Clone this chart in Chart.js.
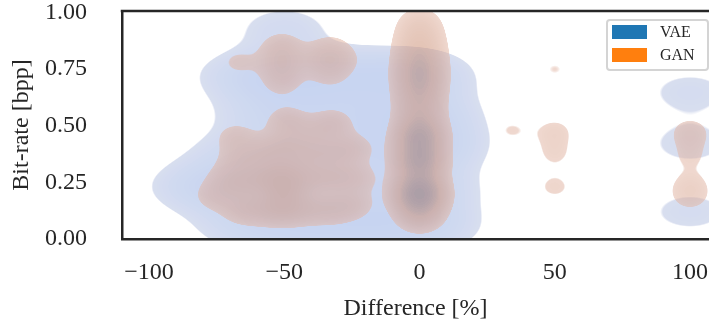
<!doctype html>
<html lang="en">
<head>
<meta charset="utf-8">
<title>Bit-rate vs difference</title>
<script src="https://cdn.jsdelivr.net/npm/chart.js@4.4.1/dist/chart.umd.min.js"></script>
<style>
  * { box-sizing: border-box; margin: 0; padding: 0; }
  body { background: #fff; width: 709px; height: 324px; overflow: hidden; }
  .wrap { position: relative; width: 709px; height: 324px; }
  .legend { position: absolute; left: 606px; top: 19px; width: 103px; height: 52px; background: rgba(255,255,255,0.8);
    border: 2px solid #d4d4d4; border-radius: 4px; font: 16px "Liberation Serif", serif; color: #262626; }
  .legend .it { position: absolute; left: 4px; height: 14px; }
  .legend .sw { position: absolute; left: 0; top: 0; width: 35px; height: 14px; }
  .legend .tx { position: absolute; left: 48px; top: -2px; line-height: 18px; white-space: nowrap; }
</style>
</head>
<body>
<div class="wrap">
  <canvas id="c"></canvas>
  <div class="legend" id="legend"></div>
</div>
<script>
// sample clusters: difference [%], bit-rate [bpp], weight (count)
const vaeX = [-50,
  -65, -48, -30, -12, 2,
  -60, -45, -28, -10, 4,
  -70, -55, -38, -20, 0, 6,
  -82, -66, -48, -28, -8, 5,
  -66, -48, -30, -12, 5,
  100, 100, 100];
const vaeY = [0.93,
  0.72, 0.71, 0.72, 0.72, 0.72,
  0.55, 0.55, 0.55, 0.55, 0.55,
  0.38, 0.38, 0.38, 0.40, 0.38, 0.42,
  0.23, 0.23, 0.22, 0.22, 0.22, 0.22,
  0.06, 0.06, 0.06, 0.06, 0.06,
  0.65, 0.42, 0.12];
const vaeW = [1.6,
  1.8, 2.8, 2.2, 2, 2.2,
  1.2, 1.4, 1.5, 1.6, 2,
  1.1, 1.4, 1.5, 1.9, 1.5, 2,
  2, 2.2, 1.8, 1.8, 1.8, 1.6,
  1.6, 2.2, 2.4, 2.4, 2,
  1.41, 1.41, 1.41];

const ganX = [0, 0, 0, 0, 0, 0, 0, 0, 0, 0, 0, 0, 0, 0, 0, 0, 0,
  -76, -72, -66, -66, -67, -68, -58, -58, -58, -50, -50, -50, -50, -49,
  -41, -41, -41, -40, -32, -32, -32, -32, -24, -23, -24,
  -51, -51, -51, -37, -29, -33, -33, -67,
  34, 50, 50, 50, 50, 50, 100, 100, 100, 100, 100];
const ganY = [0.10, 0.15, 0.20, 0.25, 0.30, 0.35, 0.40, 0.45, 0.50, 0.56, 0.62, 0.68, 0.74, 0.80, 0.86, 0.92, 0.97,
  0.19, 0.27, 0.13, 0.24, 0.35, 0.45, 0.13, 0.27, 0.38, 0.13, 0.22, 0.30, 0.41, 0.52,
  0.13, 0.27, 0.38, 0.47, 0.13, 0.27, 0.38, 0.51, 0.15, 0.27, 0.40,
  0.69, 0.77, 0.85, 0.79, 0.79, 0.72, 0.85, 0.78,
  0.48, 0.75, 0.48, 0.44, 0.37, 0.23, 0.48, 0.44, 0.36, 0.24, 0.18];
const ganW = [2.5, 3, 9, 2.5, 2.5, 6, 2.5, 6, 2.5, 2.5, 2.5, 3.5, 4, 3, 2.5, 1.5, 1,
  1.3, 1, 1.5, 1.5, 1.3, 1.3, 1.5, 1.8, 1.3, 2.5, 3, 2, 1.5, 1.6,
  1.5, 1.5, 1.3, 0.8, 1.5, 1.5, 1.3, 1.6, 1.3, 1.3, 1.3,
  1.2, 1.7, 1.5, 1.1, 1.1, 0.9, 0.9, 1.0,
  0.87, 0.85, 0.9, 0.3, 0.85, 1, 1, 0.5, 0.85, 1, 0.95];

const xTicks = [-100, -50, 0, 50, 100];
const yTicks = [0, 0.25, 0.5, 0.75, 1];

const ink = "#262626";
const serif = "'Liberation Serif', 'Times New Roman', serif";

function pts(xs, ys, ws) { return xs.map((x, i) => ({ x, y: ys[i], w: ws[i] })); }

function ramp(stops, t) {
  const s = t * (stops.length - 1), i = Math.min(stops.length - 2, Math.floor(s)), f = s - i;
  return stops[i].map((c, k) => c + (stops[i + 1][k] - c) * f);
}

// filled density contours, evaluated on the chart area pixel grid
const kdeFill = {
  id: "kdeFill",
  beforeDatasetsDraw(chart) {
    const { ctx, chartArea: a, scales: { x, y } } = chart;
    const w = Math.ceil(a.right - a.left), h = Math.ceil(a.bottom - a.top);
    chart.data.datasets.forEach((ds) => {
      const k = ds.kde, dens = new Float32Array(w * h);
      ds.data.forEach((p) => {
        const px = x.getPixelForValue(p.x) - a.left, py = y.getPixelForValue(p.y) - a.top;
        const j0 = Math.max(0, Math.floor(py - 4 * k.sy)), j1 = Math.min(h, Math.ceil(py + 4 * k.sy));
        const i0 = Math.max(0, Math.floor(px - 4 * k.sx)), i1 = Math.min(w, Math.ceil(px + 4 * k.sx));
        for (let j = j0; j < j1; j++) {
          const dy = (j + 0.5 - py) / k.sy;
          for (let i = i0; i < i1; i++) {
            const dx = (i + 0.5 - px) / k.sx;
            dens[j * w + i] += p.w * Math.exp(-0.5 * (dx * dx + dy * dy));
          }
        }
      });
      const img = ctx.createImageData(w, h), L = Math.log(k.ref / k.t);
      for (let n = 0; n < w * h; n++) {
        const d = dens[n];
        if (d < k.t) continue;
        let t = Math.min(1, Math.log(d / k.t) / L);
        t = Math.floor(t * k.levels) / k.levels;
        const c = ramp(k.colors, t), e = Math.min(1, (d - k.t) / (k.t * 0.06));
        img.data[4 * n] = c[0]; img.data[4 * n + 1] = c[1]; img.data[4 * n + 2] = c[2];
        img.data[4 * n + 3] = 255 * k.alpha * e;
      }
      const off = document.createElement("canvas");
      off.width = w; off.height = h;
      off.getContext("2d").putImageData(img, 0, 0);
      ctx.drawImage(off, a.left, a.top);
    });
  },
  afterDraw(chart) {
    const { ctx, chartArea: a } = chart;
    ctx.save();
    ctx.strokeStyle = ink; ctx.lineWidth = 2.5;
    ctx.beginPath(); ctx.moveTo(a.left - 1.25, a.top); ctx.lineTo(a.right, a.top); ctx.stroke();
    ctx.restore();
  },
};

const chart = new Chart(document.getElementById("c"), {
  type: "scatter",
  data: {
    datasets: [
      { label: "VAE", data: pts(vaeX, vaeY, vaeW), pointRadius: 0, pointHoverRadius: 0, legendColor: "#1f77b4",
        kde: { sx: 36, sy: 18, t: 1, ref: 50, alpha: 0.55, levels: 40,
          colors: [[184, 195, 226], [145, 172, 230], [90, 120, 190]] } },
      { label: "GAN", data: pts(ganX, ganY, ganW), pointRadius: 0, pointHoverRadius: 0, legendColor: "#ff7f0e",
        kde: { sx: 15, sy: 11, t: 0.8, ref: 30, alpha: 0.55, levels: 40,
          colors: [[226, 184, 168], [205, 148, 122], [95, 80, 90]] } },
    ],
  },
  options: {
    responsive: true, maintainAspectRatio: false, animation: false,
    layout: { padding: { top: 11, right: 0, left: 0, bottom: 0 } },
    plugins: { legend: { display: false }, tooltip: { enabled: false } },
    scales: {
      x: {
        type: "linear", min: -110, max: 107,
        grid: { display: false, drawTicks: false },
        border: { display: true, color: ink, width: 2.5, z: 1 },
        ticks: { color: ink, font: { family: serif, size: 24 }, padding: 19,
          callback: (v) => (v < 0 ? "\u2212" : "") + Math.abs(v) },
        title: { display: true, text: "Difference [%]", color: ink, font: { family: serif, size: 24 },
          padding: { top: 0, bottom: 1 } },
        afterBuildTicks: (s) => { s.ticks = xTicks.map((v) => ({ value: v })); },
        afterFit: (s) => { s.height = 85; s.paddingLeft = 0; s.paddingRight = 0; },
      },
      y: {
        type: "linear", min: 0, max: 1.007,
        grid: { display: false, drawTicks: false },
        border: { display: true, color: ink, width: 2.5, z: 1 },
        ticks: { color: ink, font: { family: serif, size: 24 }, padding: 35,
          callback: (v) => v.toFixed(2) },
        title: { display: true, text: "Bit-rate [bpp]", color: ink, font: { family: serif, size: 24 },
          padding: { top: 7, bottom: 0 } },
        afterBuildTicks: (s) => { s.ticks = yTicks.map((v) => ({ value: v })); },
        afterFit: (s) => { s.width = 122; s.paddingTop = 0; s.paddingBottom = 0; },
      },
    },
  },
  plugins: [kdeFill],
});

document.getElementById("legend").innerHTML = chart.data.datasets
  .map((ds, i) => `<div class="it" style="top:${4 + i * 23}px"><span class="sw" style="background:${ds.legendColor}"></span><span class="tx">${ds.label}</span></div>`)
  .join("");
</script>
</body>
</html>
